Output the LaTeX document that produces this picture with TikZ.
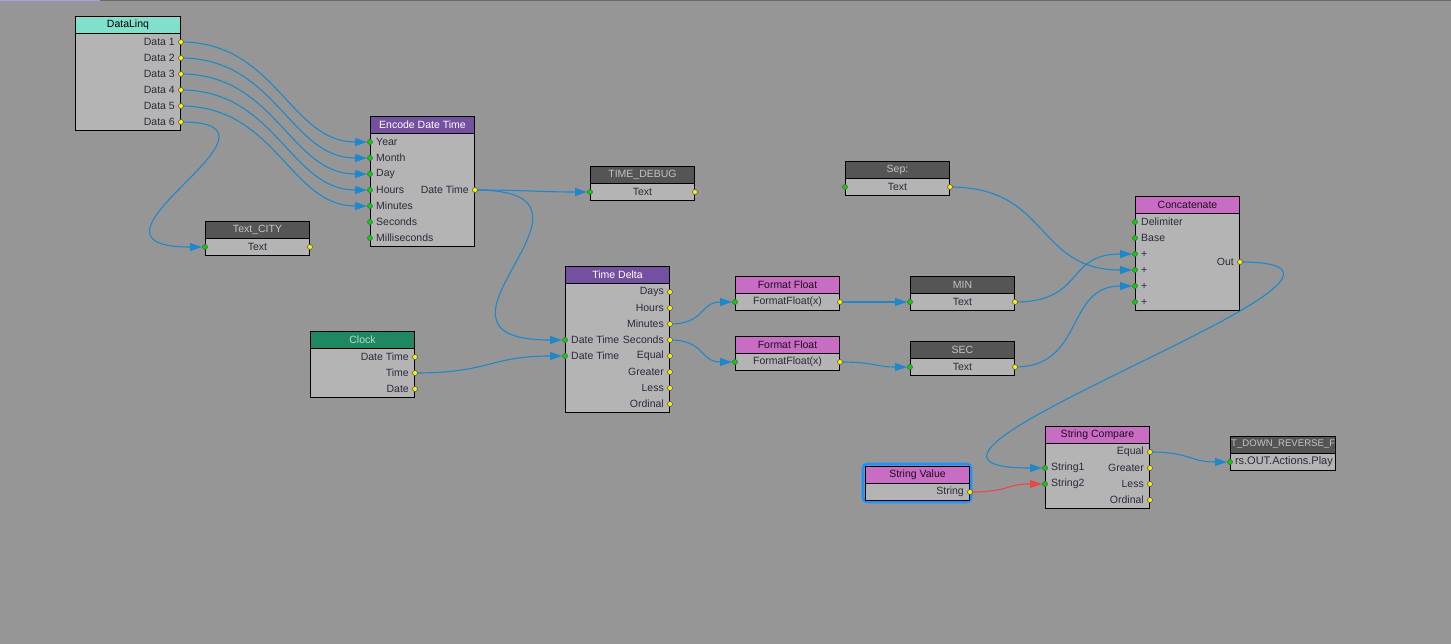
\documentclass[tikz,border=0pt]{standalone}
\usepackage{fontspec}
\setmainfont{Liberation Sans}
\usetikzlibrary{calc,arrows.meta}
\definecolor{bgc}{HTML}{969696}
\definecolor{bodyc}{HTML}{B4B4B4}
\definecolor{lblc}{HTML}{2A2A3C}
\definecolor{wirec}{HTML}{1E88CC}
\definecolor{redw}{HTML}{E84848}
\definecolor{turq}{HTML}{80E0CC}
\definecolor{purp}{HTML}{7450A0}
\definecolor{magh}{HTML}{C86CC4}
\definecolor{darkh}{HTML}{555555}
\definecolor{darkt}{HTML}{C4C4C4}
\definecolor{clockh}{HTML}{208860}
\definecolor{clockt}{HTML}{B8DCCC}
\definecolor{lav}{HTML}{A0A0E8}
\definecolor{topl}{HTML}{6A6A6A}
\definecolor{seloutline}{HTML}{1E90FF}
\definecolor{portring}{HTML}{5A5A5A}
\tikzset{
  fnt/.style={font=\fontsize{10.5}{12}\selectfont},
  hdr/.style={draw=black, line width=1pt, minimum height=17pt, inner sep=0pt, anchor=north west, fnt},
  hturq/.style={fill=turq, text=black},
  hpurp/.style={fill=purp, text=white},
  hmag/.style={fill=magh, text=black!85!magh},
  hdark/.style={fill=darkh, text=darkt},
  hclock/.style={fill=clockh, text=clockt},
  bodyb/.style={draw=black, line width=1pt, fill=bodyc, inner sep=0pt, anchor=north west},
  lbl/.style={inner sep=0pt, text=lblc, fnt},
  wire/.style={draw=wirec, line width=1.1pt, -{Triangle[length=12pt,width=8pt]}, shorten >=3pt},
  outp/.style={fill=yellow, draw=portring, line width=0.6pt},
  inp/.style={fill=green!85!black, draw=portring, line width=0.6pt},
}
% block: name, x, y(top), width, rows, header style, title
\newcommand\gblk[7]{%
  \node[hdr,#6,minimum width=#4pt] (#1-h) at (#2,#3) {#7};
  \node[bodyb,minimum width=#4pt,minimum height={#5*16+1}] (#1) at (#2,{#3+17}) {};
}
% output row: block, row, label, coordinate
\newcommand\orow[4]{%
  \coordinate (#4) at ($(#1.north east)+(0,{9+16*(#2-1)})$);
  \node[lbl,anchor=east] (#4-l) at ($(#4)+(-6,0)$) {#3};
}
% input row: block, row, label, coordinate
\newcommand\irow[4]{%
  \coordinate (#4) at ($(#1.north west)+(0,{9+16*(#2-1)})$);
  \node[lbl,anchor=west] (#4-l) at ($(#4)+(6,0)$) {#3};
}
% single row text block ports: block, centre label
\newcommand\srow[2]{%
  \coordinate (#1-i) at ($(#1.north west)+(0,9)$);
  \coordinate (#1-o) at ($(#1.north east)+(0,9)$);
  \node[lbl] (#1-l) at ($(#1.north)+(0,9)$) {#2};
}
\begin{document}
\begin{tikzpicture}[x=1pt,y=-1pt]
\fill[bgc] (0,0) rectangle (1451,644);
\useasboundingbox (0,0) rectangle (1451,644);
\fill[topl] (0,0) rectangle (1451,1.2);
\fill[lav] (0,0) rectangle (100,1.2);

% DataLinq
\gblk{dl}{75}{16}{105}{6}{hturq}{DataLinq}
\foreach \k in {1,...,6} {\orow{dl}{\k}{Data \k}{dl-\k}}

% Encode Date Time
\gblk{enc}{370}{116}{104}{7}{hpurp}{Encode Date Time}
\irow{enc}{1}{Year}{enc-1}
\irow{enc}{2}{Month}{enc-2}
\irow{enc}{3}{Day}{enc-3}
\irow{enc}{4}{Hours}{enc-4}
\irow{enc}{5}{Minutes}{enc-5}
\irow{enc}{6}{Seconds}{enc-6}
\irow{enc}{7}{Milliseconds}{enc-7}
\orow{enc}{4}{Date Time}{enc-dt}

% Text_CITY
\gblk{city}{205}{221}{104}{1}{hdark}{Text\_CITY}
\srow{city}{Text}

% TIME_DEBUG
\gblk{dbg}{590}{166}{104}{1}{hdark}{TIME\_DEBUG}
\srow{dbg}{Text}

% Time Delta
\gblk{td}{565}{266}{104}{8}{hpurp}{Time Delta}
\orow{td}{1}{Days}{td-1}
\orow{td}{2}{Hours}{td-2}
\orow{td}{3}{Minutes}{td-3}
\orow{td}{4}{Seconds}{td-4}
\orow{td}{5}{Equal}{td-5}
\orow{td}{6}{Greater}{td-6}
\orow{td}{7}{Less}{td-7}
\orow{td}{8}{Ordinal}{td-8}
\irow{td}{4}{Date Time}{td-i1}
\irow{td}{5}{Date Time}{td-i2}

% Clock
\gblk{clk}{310}{331}{104}{3}{hclock}{Clock}
\orow{clk}{1}{Date Time}{clk-1}
\orow{clk}{2}{Time}{clk-2}
\orow{clk}{3}{Date}{clk-3}

% Sep:
\gblk{sep}{845}{161}{104}{1}{hdark}{Sep:}
\srow{sep}{Text}

% Format Float
\gblk{ffa}{735}{276}{104}{1}{hmag}{Format Float}
\srow{ffa}{FormatFloat(x)}
\gblk{ffb}{735}{336}{104}{1}{hmag}{Format Float}
\srow{ffb}{FormatFloat(x)}

% MIN / SEC
\gblk{mn}{910}{276}{104}{1}{hdark}{MIN}
\srow{mn}{Text}
\gblk{sc}{910}{341}{104}{1}{hdark}{SEC}
\srow{sc}{Text}

% Concatenate
\gblk{cat}{1135}{196}{104}{6}{hmag}{Concatenate}
\irow{cat}{1}{Delimiter}{cat-1}
\irow{cat}{2}{Base}{cat-2}
\irow{cat}{3}{+}{cat-3}
\irow{cat}{4}{+}{cat-4}
\irow{cat}{5}{+}{cat-5}
\irow{cat}{6}{+}{cat-6}
\coordinate (cat-o) at ($(cat.north east)+(0,49)$);
\node[lbl,anchor=east] (cat-ol) at ($(cat-o)+(-6,0)$) {Out};

% String Value (selected)
\draw[seloutline, line width=2.6pt, rounded corners=4pt] (863,464) rectangle (971,502);
\gblk{sv}{865}{466}{104}{1}{hmag}{String Value}
\orow{sv}{1}{String}{sv-o}

% String Compare
\gblk{cmp}{1045}{426}{104}{4}{hmag}{String Compare}
\orow{cmp}{1}{Equal}{cmp-1}
\orow{cmp}{2}{Greater}{cmp-2}
\orow{cmp}{3}{Less}{cmp-3}
\orow{cmp}{4}{Ordinal}{cmp-4}
\irow{cmp}{2}{String1}{cmp-i1}
\irow{cmp}{3}{String2}{cmp-i2}

% truncated text block
\node[hdr,hdark,minimum width=105pt] (tdr-h) at (1230,436) {};
\node[bodyb,minimum width=105pt,minimum height=17pt] (tdr) at (1230,453) {};
\coordinate (tdr-i) at ($(tdr.north west)+(0,9)$);
\begin{scope}
  \clip (1230.5,436.5) rectangle (1334.5,469.5);
  \node[lbl,text=darkt,anchor=west,font=\fontsize{9.6}{11}\selectfont] (tdr-t1) at (1231,444.5) {T\_DOWN\_REVERSE\_F};
  \node[lbl,anchor=east,font=\fontsize{11}{12}\selectfont] (tdr-t2) at (1333,462) {rs.OUT.Actions.Play};
\end{scope}

% wires
\foreach \k in {1,...,5} {\draw[wire] (dl-\k) .. controls +(95,0) and +(-80,0) .. (enc-\k);}
\draw[wire] (dl-6) .. controls +(130,0) and +(-150,0) .. (city-i);
\draw[wire] (enc-dt) .. controls +(50,0) and +(-50,0) .. (dbg-i);
\draw[wire] (enc-dt) .. controls +(160,0) and +(-170,0) .. (td-i1);
\draw[wire] (clk-2) .. controls +(75,0) and +(-75,0) .. (td-i2);
\draw[wire] (td-3) .. controls +(35,0) and +(-35,0) .. (ffa-i);
\draw[wire] (td-4) .. controls +(35,0) and +(-35,0) .. (ffb-i);
\draw[wire] (ffa-o) .. controls +(35,0) and +(-35,0) .. (mn-i);
\draw[wire] (ffb-o) .. controls +(35,0) and +(-35,0) .. (sc-i);
\draw[wire] (sep-o) .. controls +(100,0) and +(-100,0) .. (cat-4);
\draw[wire] (mn-o) .. controls +(70,0) and +(-70,0) .. (cat-3);
\draw[wire] (sc-o) .. controls +(70,0) and +(-70,0) .. (cat-5);
\draw[wire] (cat-o) .. controls +(210,0) and +(-225,0) .. (cmp-i1);
\draw[wire] (cmp-1) .. controls +(40,0) and +(-40,0) .. (tdr-i);
\draw[wire,draw=redw,color=redw] (sv-o) .. controls +(40,0) and +(-40,0) .. (cmp-i2);

% ports
\foreach \p in {dl-1,dl-2,dl-3,dl-4,dl-5,dl-6,enc-dt,city-o,dbg-o,td-1,td-2,td-3,td-4,td-5,td-6,td-7,td-8,clk-1,clk-2,clk-3,sep-o,ffa-o,ffb-o,mn-o,sc-o,cat-o,sv-o,cmp-1,cmp-2,cmp-3,cmp-4}
  {\draw[outp] (\p) circle (2.5pt);}
\foreach \p in {enc-1,enc-2,enc-3,enc-4,enc-5,enc-6,enc-7,city-i,dbg-i,td-i1,td-i2,sep-i,ffa-i,ffb-i,mn-i,sc-i,cat-1,cat-2,cat-3,cat-4,cat-5,cat-6,cmp-i1,cmp-i2,tdr-i}
  {\draw[inp] (\p) circle (2.5pt);}
\end{tikzpicture}
\end{document}
